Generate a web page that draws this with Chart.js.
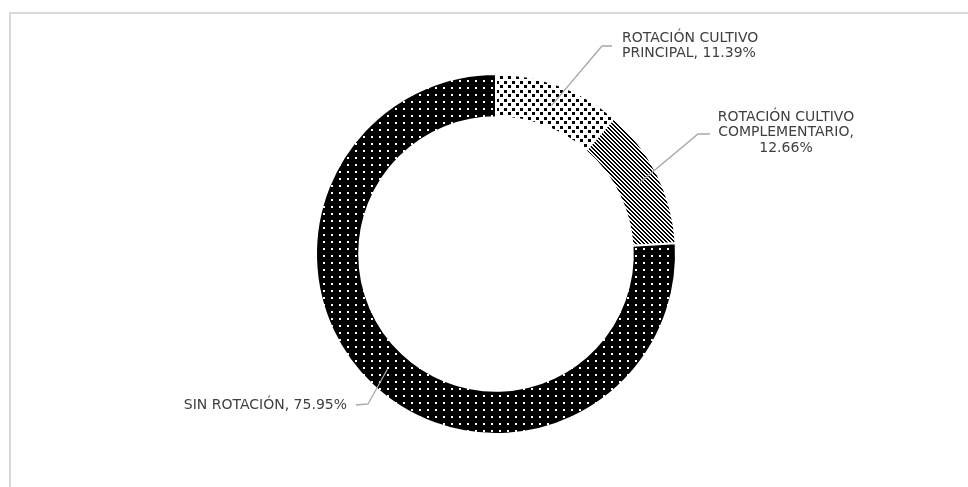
<!DOCTYPE html>
<html>
<head>
<meta charset="utf-8">
<script src="https://cdn.jsdelivr.net/npm/chart.js@4.4.0/dist/chart.umd.min.js"></script>
<style>
html,body{margin:0;padding:0;background:#fff;}
#wrap{width:968px;height:487px;position:relative;}
</style>
</head>
<body>
<div id="wrap"><canvas id="c" width="968" height="487"></canvas></div>
<script>
// ---- data ----
const categories = ['ROTACIÓN CULTIVO PRINCIPAL', 'ROTACIÓN CULTIVO COMPLEMENTARIO', 'SIN ROTACIÓN'];
const values = [11.39, 12.66, 75.95];
const labelLines = [
  ['ROTACIÓN CULTIVO', 'PRINCIPAL, 11.39%'],
  ['ROTACIÓN CULTIVO', 'COMPLEMENTARIO,', '12.66%'],
  ['SIN ROTACIÓN, 75.95%']
];

// ---- label layout (annotation placement) ----
const labelLayout = [
  {elbow:[602,46], end:[612,46], text:[622,38], align:'left'},
  {elbow:[698,134], end:[710,134], text:[786,117], align:'center'},
  {elbow:[368,404], end:[356,405], text:[347,405], align:'right'}
];

function makePattern(kind){
  const c = document.createElement('canvas');
  let w=8,h=8;
  if(kind==='dots'){w=8;h=7;}
  if(kind==='checker'){w=8;h=9;}
  if(kind==='stripes'){w=4;h=4;}
  c.width=w;c.height=h;
  const x=c.getContext('2d');
  if(kind==='dots'){
    x.fillStyle='#000';x.fillRect(0,0,w,h);
    x.fillStyle='#fff';x.fillRect(3,3,2,2);
  } else if(kind==='checker'){
    x.fillStyle='#fff';x.fillRect(0,0,w,h);
    x.fillStyle='#000';x.fillRect(0,0,3,3);x.fillRect(4,4,3,3);
  } else {
    x.fillStyle='#fff';x.fillRect(0,0,w,h);
    x.fillStyle='#000';
    for(let yy=0;yy<h;yy++)for(let xx=0;xx<w;xx++){
      const d=((xx-yy)%4+4)%4;
      if(d===0||d===1)x.fillRect(xx,yy,1,1);
    }
  }
  return document.getElementById('c').getContext('2d').createPattern(c,'repeat');
}

const fills = [makePattern('checker'), makePattern('stripes'), makePattern('dots')];

const frame = {
  id:'frame',
  beforeDraw(chart){
    const ctx=chart.ctx;
    ctx.save();
    ctx.fillStyle='#fff';ctx.fillRect(0,0,chart.width,chart.height);
    ctx.strokeStyle='#d9d9d9';ctx.lineWidth=2;
    ctx.strokeRect(10,13,2000,2000);
    ctx.restore();
  }
};

const leaders = {
  id:'leaders',
  afterDraw(chart){
    const ctx=chart.ctx;
    const meta=chart.getDatasetMeta(0);
    ctx.save();
    meta.data.forEach((arc,i)=>{
      const p=arc.getProps(['x','y','startAngle','endAngle','innerRadius','outerRadius'],true);
      const a=(p.startAngle+p.endAngle)/2;
      const r=(p.innerRadius+p.outerRadius)/2;
      const ax=p.x+Math.cos(a)*r, ay=p.y+Math.sin(a)*r;
      const L=labelLayout[i];
      ctx.strokeStyle='#a6a6a6';ctx.lineWidth=1.3;
      ctx.beginPath();ctx.moveTo(ax,ay);ctx.lineTo(L.elbow[0],L.elbow[1]);ctx.lineTo(L.end[0],L.end[1]);ctx.stroke();
      ctx.fillStyle='#404040';
      ctx.font='14px "DejaVu Sans"';
      ctx.textAlign=L.align;ctx.textBaseline='middle';
      labelLines[i].forEach((t,k)=>ctx.fillText(t,L.text[0],L.text[1]+k*15.5));
    });
    ctx.restore();
  }
};

new Chart(document.getElementById('c'),{
  type:'doughnut',
  data:{labels:categories,datasets:[{data:values,backgroundColor:fills,borderColor:'#fff',borderWidth:2,hoverOffset:0}]},
  options:{
    responsive:false,animation:false,events:[],
    cutout:'76%',rotation:0,
    layout:{padding:{left:315,right:291,top:73,bottom:52}},
    plugins:{legend:{display:false},tooltip:{enabled:false}}
  },
  plugins:[frame,leaders]
});
</script>
</body>
</html>
